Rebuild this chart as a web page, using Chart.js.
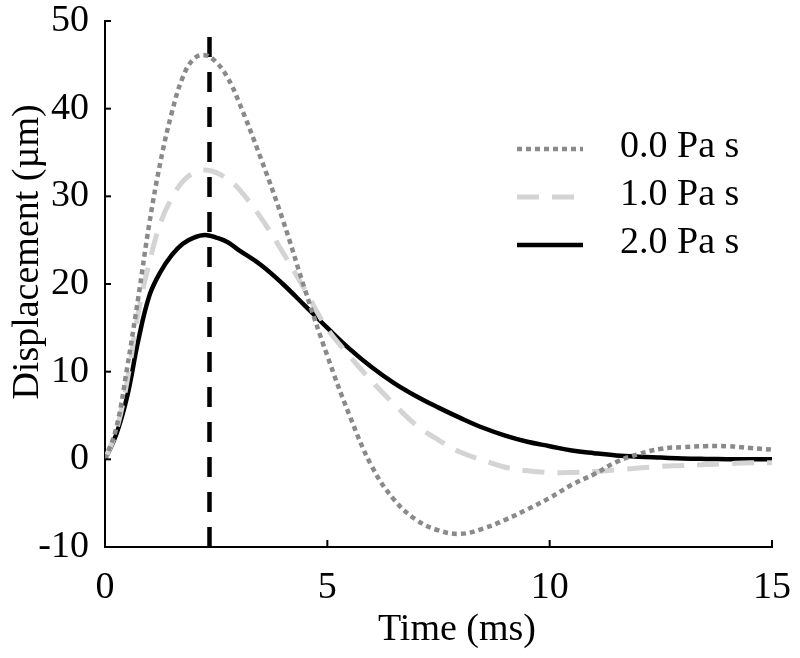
<!DOCTYPE html>
<html lang="en">
<head>
    <meta charset="UTF-8">
    <title>Displacement vs Time</title>
    <script src="https://cdn.jsdelivr.net/npm/chart.js"></script>
    <style>
        body {
            margin: 0;
            background: #ffffff;
        }

        #chart-container {
            width: 800px;
            height: 658px;
        }
    </style>
</head>
<body>

<div id="chart-container">
    <canvas id="dispChart" width="800" height="658"></canvas>
</div>

<script>
    // Time axis (ms) and displacement (um) for each viscosity
    const timeMs = [0, 0.25, 0.5, 0.75, 1, 1.25, 1.5, 1.75, 2, 2.25, 2.5, 2.75, 3, 3.5, 4, 4.5, 5, 5.5, 6, 6.5,
        7, 7.5, 8, 8.5, 9, 9.5, 10, 10.5, 11, 11.5, 12, 12.5, 13, 13.5, 14, 14.5, 15];

    const visc00 = [0, 3.5, 10.5, 18.5, 27, 34, 39.5, 43.6, 45.7, 46.1, 45.3, 43.6, 40.9, 34.4, 27.3, 19.3, 11.8,
        5.0, -0.8, -4.6, -6.9, -8.1, -8.5, -7.9, -6.9, -5.7, -4.4, -2.9, -1.7, -0.3, 0.6, 1.2, 1.4, 1.5, 1.5, 1.3, 1.1];

    const visc10 = [0, 3.2, 9.0, 16.8, 22.5, 27, 29.8, 31.7, 32.7, 33.0, 32.7, 32.0, 30.9, 27.6, 23.6, 19.3, 14.9,
        11.8, 8.9, 6.3, 3.9, 2.2, 0.8, -0.1, -0.9, -1.3, -1.5, -1.5, -1.4, -1.2, -1.0, -0.8, -0.7, -0.6, -0.5, -0.4, -0.4];

    const visc20 = [0, 2.8, 7.2, 13.6, 18.7, 21.4, 23.3, 24.6, 25.3, 25.6, 25.3, 24.8, 23.9, 22.2, 20.0, 17.5, 15.0,
        12.6, 10.5, 8.7, 7.2, 5.9, 4.7, 3.6, 2.7, 2.0, 1.5, 1.0, 0.7, 0.45, 0.3, 0.2, 0.1, 0.05, 0.02, 0, 0];

    const seriesLabels = ['0.0 Pa s', '1.0 Pa s', '2.0 Pa s'];

    // vertical marker at the peak time
    const markerTime = [2.35, 2.35];
    const markerDisp = [-10, 48.3];

    const xTicks = [0, 5, 10, 15];
    const yTicks = [-10, 0, 10, 20, 30, 40, 50];

    const FONT = '"Liberation Serif", "Times New Roman", serif';

    function toPoints(xs, ys) {
        return xs.map((x, i) => ({ x: x, y: ys[i] }));
    }

    // Inward ticks, axis titles and legend
    const decorPlugin = {
        id: 'decor',
        afterDraw(chart) {
            const ctx = chart.ctx;
            const xs = chart.scales.x;
            const ys = chart.scales.y;
            const area = chart.chartArea;

            ctx.save();
            ctx.strokeStyle = '#000';
            ctx.lineWidth = 2;
            ctx.setLineDash([]);
            xTicks.forEach(v => {
                const px = xs.getPixelForValue(v);
                ctx.beginPath();
                ctx.moveTo(px, area.bottom);
                ctx.lineTo(px, area.bottom - 7);
                ctx.stroke();
            });
            yTicks.forEach(v => {
                const py = ys.getPixelForValue(v);
                ctx.beginPath();
                ctx.moveTo(area.left, py);
                ctx.lineTo(area.left + 6, py);
                ctx.stroke();
            });

            // axis titles
            ctx.fillStyle = '#000';
            ctx.font = '38px ' + FONT;
            ctx.textAlign = 'center';
            ctx.textBaseline = 'middle';
            ctx.fillText('Time (ms)', area.left + 352, area.bottom + 83);

            ctx.save();
            ctx.translate(28, area.top + 231);
            ctx.rotate(-Math.PI / 2);
            ctx.fillText('Displacement (\u00b5m)', 0, 0);
            ctx.restore();

            // legend
            ctx.textAlign = 'left';
            for (let i = 0; i < 3; i++) {
                const ds = chart.data.datasets[i];
                const y = area.top + 128 + i * 48;
                ctx.strokeStyle = ds.borderColor;
                ctx.lineWidth = ds.borderWidth;
                ctx.setLineDash(ds.borderDash || []);
                ctx.beginPath();
                ctx.moveTo(area.left + 412, y);
                ctx.lineTo(area.left + 478, y);
                ctx.stroke();
                ctx.setLineDash([]);
                ctx.fillStyle = '#000';
                ctx.fillText(ds.label, area.left + 515, y - 2);
            }
            ctx.restore();
        }
    };

    const ctx = document.getElementById('dispChart').getContext('2d');
    const dispChart = new Chart(ctx, {
        type: 'line',
        data: {
            datasets: [
                {
                    label: seriesLabels[0],
                    data: toPoints(timeMs, visc00),
                    borderColor: '#8a8a8a',
                    borderWidth: 4.5,
                    borderDash: [5, 4],
                    tension: 0.4,
                    pointRadius: 0
                },
                {
                    label: seriesLabels[1],
                    data: toPoints(timeMs, visc10),
                    borderColor: '#d4d4d4',
                    borderWidth: 5,
                    borderDash: [22, 13],
                    tension: 0.4,
                    pointRadius: 0
                },
                {
                    label: seriesLabels[2],
                    data: toPoints(timeMs, visc20),
                    borderColor: '#000000',
                    borderWidth: 4.5,
                    tension: 0.4,
                    pointRadius: 0
                },
                {
                    label: 'peak',
                    data: toPoints(markerTime, markerDisp),
                    borderColor: '#000000',
                    borderWidth: 4.5,
                    borderDash: [20, 15],
                    pointRadius: 0
                }
            ]
        },
        options: {
            responsive: false,
            animation: false,
            layout: {
                padding: { top: 21, right: 28, left: 0, bottom: 0 }
            },
            plugins: {
                legend: { display: false },
                tooltip: { enabled: false }
            },
            scales: {
                x: {
                    type: 'linear',
                    min: 0,
                    max: 15,
                    afterFit(scale) {
                        scale.height = 111;
                        scale.paddingLeft = 0;
                        scale.paddingRight = 0;
                    },
                    afterBuildTicks(scale) { scale.ticks = xTicks.map(v => ({ value: v })); },
                    grid: { display: false },
                    border: { display: true, color: '#000', width: 2 },
                    ticks: {
                        color: '#000',
                        padding: 10,
                        maxRotation: 0,
                        font: { family: FONT, size: 38 }
                    }
                },
                y: {
                    min: -10,
                    max: 50,
                    afterFit(scale) {
                        scale.width = 105;
                        scale.paddingTop = 0;
                        scale.paddingBottom = 0;
                    },
                    afterBuildTicks(scale) { scale.ticks = yTicks.map(v => ({ value: v })); },
                    grid: { display: false },
                    border: { display: true, color: '#000', width: 2 },
                    ticks: {
                        color: '#000',
                        padding: 8,
                        font: { family: FONT, size: 38 }
                    }
                }
            }
        },
        plugins: [decorPlugin]
    });
</script>

</body>
</html>
